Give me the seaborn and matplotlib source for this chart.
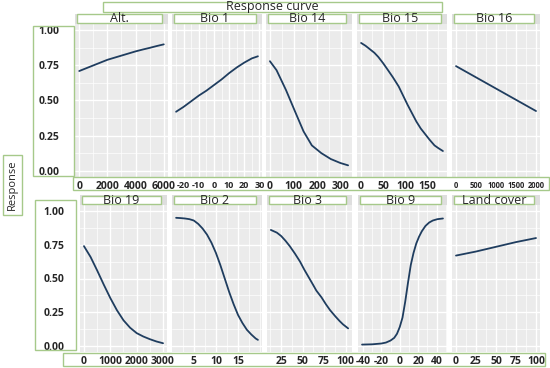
import matplotlib
matplotlib.use("Agg")
import matplotlib.pyplot as plt
from matplotlib.patches import Rectangle
from matplotlib.ticker import AutoMinorLocator
import seaborn as sns

# response curves
alt_x = [0, 500, 1000, 1500, 2000, 2500, 3000, 3500, 4000, 4500, 5000, 5500, 6000]
alt_y = [0.71, 0.73, 0.75, 0.77, 0.79, 0.805, 0.82, 0.835, 0.85, 0.863, 0.875, 0.888, 0.90]

bio1_x = [-25, -20, -15, -10, -5, 0, 5, 10, 15, 20, 25, 29]
bio1_y = [0.42, 0.455, 0.495, 0.535, 0.57, 0.61, 0.65, 0.695, 0.735, 0.77, 0.80, 0.815]

bio14_x = [0, 28, 68, 109, 142, 177, 217, 257, 297, 330]
bio14_y = [0.78, 0.716, 0.574, 0.41, 0.28, 0.18, 0.125, 0.083, 0.055, 0.038]

bio15_x = [0, 10, 20, 30, 39, 50, 60, 72, 85, 95, 105, 115, 125, 135, 145, 155, 166, 175, 185]
bio15_y = [0.91, 0.89, 0.865, 0.84, 0.81, 0.765, 0.72, 0.665, 0.60, 0.535, 0.47, 0.41,
           0.35, 0.30, 0.26, 0.22, 0.18, 0.16, 0.14]

bio16_x = [0, 500, 1000, 1500, 2000]
bio16_y = [0.745, 0.665, 0.585, 0.505, 0.425]

bio19_x = [0, 250, 500, 750, 1000, 1250, 1500, 1750, 2000, 2250, 2500, 2750, 3000]
bio19_y = [0.74, 0.66, 0.56, 0.455, 0.355, 0.265, 0.19, 0.135, 0.095, 0.07, 0.05, 0.033, 0.02]

bio2_x = [1, 2, 3, 4, 5, 6, 7, 8, 9, 10, 11, 12, 13, 14, 15, 16, 17, 18, 19, 19.5]
bio2_y = [0.95, 0.948, 0.945, 0.94, 0.93, 0.905, 0.87, 0.825, 0.765, 0.69, 0.60, 0.50,
          0.40, 0.31, 0.23, 0.17, 0.12, 0.085, 0.055, 0.045]

bio3_x = [13, 20, 25, 30, 35, 41, 47, 52, 57, 62, 66, 72, 77, 82, 88, 93, 97, 103]
bio3_y = [0.86, 0.84, 0.815, 0.78, 0.74, 0.685, 0.625, 0.565, 0.51, 0.455, 0.41, 0.36,
          0.31, 0.265, 0.22, 0.185, 0.16, 0.13]

bio9_x = [-41, -30, -20, -15, -10, -6, -3, 0, 3, 6, 9, 12, 15, 18, 21, 24, 28, 32, 36, 41, 47]
bio9_y = [0.01, 0.012, 0.018, 0.025, 0.04, 0.06, 0.09, 0.14, 0.21, 0.33, 0.47, 0.60,
          0.69, 0.76, 0.81, 0.85, 0.89, 0.915, 0.93, 0.94, 0.945]

land_x = [0, 25, 50, 75, 100]
land_y = [0.67, 0.70, 0.735, 0.77, 0.80]

y_ticks = [0, 0.25, 0.5, 0.75, 1.0]
y_labels = ["0.00", "0.25", "0.50", "0.75", "1.00"]

panels = [
    # name, x, y, xticks, left px, right px, row, tick font size
    ("Alt.", alt_x, alt_y, [0, 2000, 4000, 6000], 75, 168, 0, 7.5),
    ("Bio 1", bio1_x, bio1_y, [-20, -10, 0, 10, 20, 30], 172, 262, 0, 6.5),
    ("Bio 14", bio14_x, bio14_y, [0, 100, 200, 300], 266, 352, 0, 7.5),
    ("Bio 15", bio15_x, bio15_y, [0, 50, 100, 150], 357, 447, 0, 7.5),
    ("Bio 16", bio16_x, bio16_y, [0, 500, 1000, 1500, 2000], 452, 540, 0, 5.5),
    ("Bio 19", bio19_x, bio19_y, [0, 1000, 2000, 3000], 80, 167, 1, 7.5),
    ("Bio 2", bio2_x, bio2_y, [5, 10, 15], 172, 262, 1, 7.5),
    ("Bio 3", bio3_x, bio3_y, [25, 50, 75, 100], 267, 352, 1, 7.5),
    ("Bio 9", bio9_x, bio9_y, [-40, -20, 0, 20, 40], 358, 447, 1, 7.5),
    ("Land cover", land_x, land_y, [0, 25, 50, 75, 100], 452, 540, 1, 7.5),
]

W, H = 550, 368
GREEN = "#a6c98a"
LINE = "#1f3d5f"
rows = {0: (24, 177, 14), 1: (205, 352, 195)}   # panel top, panel bottom, strip top

sns.set_style("darkgrid", {"axes.facecolor": "#EBEBEB", "grid.color": "white"})
plt.rcParams["font.family"] = ["Open Sans", "DejaVu Sans"]

fig = plt.figure(figsize=(5.5, 3.68), dpi=100)


def frac(x0, y0, x1, y1):
    return [x0 / W, 1 - y1 / H, (x1 - x0) / W, (y1 - y0) / H]


def box(x0, y0, x1, y1, face="none", edge=GREEN, lw=1.0, z=5):
    l, b, w, h = frac(x0, y0, x1, y1)
    fig.patches.append(Rectangle((l, b), w, h, transform=fig.transFigure,
                                 facecolor=face, edgecolor=edge, lw=lw, zorder=z))


for name, xs, ys, ticks, x0, x1, row, fs in panels:
    top, bottom, strip_top = rows[row]
    ax = fig.add_axes(frac(x0, top, x1, bottom))
    sns.lineplot(x=xs, y=ys, ax=ax, color=LINE, lw=1.3)
    ax.set_ylim(-0.045, 1.045)
    span = max(xs) - min(xs)
    ax.set_xlim(min(xs) - 0.05 * span, max(xs) + 0.05 * span)
    ax.set_xticks(ticks)
    ax.set_xticklabels([str(t) for t in ticks], fontsize=fs, fontweight="bold")
    ax.set_yticks(y_ticks)
    ax.xaxis.set_minor_locator(AutoMinorLocator(2))
    ax.yaxis.set_minor_locator(AutoMinorLocator(2))
    ax.grid(which="major", color="white", lw=1.0)
    ax.grid(which="minor", color="white", lw=0.5)
    ax.tick_params(axis="x", length=2, width=0.6, color="#555555", pad=1)
    ax.tick_params(axis="y", length=2, width=0.6, color="#555555", pad=9)
    ax.tick_params(which="minor", length=0)
    if x0 < 100:
        ax.set_yticklabels(y_labels, fontsize=7.5, fontweight="bold")
    else:
        ax.set_yticklabels([])
        ax.tick_params(axis="y", length=0)
    for s in ax.spines.values():
        s.set_visible(False)
    ax.set_xlabel("")
    ax.set_ylabel("")

    # strip with boxed label
    box(x0, strip_top, x1, top, face="#dedede", edge="none", z=2)
    box(x0 + 2, strip_top + 0.5, x1 - 6, top - 1, face="white", lw=1.0, z=3)
    fig.text((x0 + x1 - 4) / 2 / W, 1 - (strip_top + top) / 2 / H, name,
             ha="center", va="center", fontsize=9, zorder=6)

# green frames around the axis texts
box(33, 26, 74, 176)
box(35, 200, 76, 350)
box(73, 177, 549, 190)
box(63, 353, 545, 366)

# overall title and y label
box(103, 2, 442, 12, face="white")
fig.text(272 / W, 1 - 6.5 / H, "Response curve", ha="center", va="center",
         fontsize=9, zorder=6)
box(3, 155, 22, 215, face="white")
fig.text(12.5 / W, 1 - 185 / H, "Response", ha="center", va="center",
         rotation=90, fontsize=8, zorder=6)

fig.savefig("out.png", dpi=100)
